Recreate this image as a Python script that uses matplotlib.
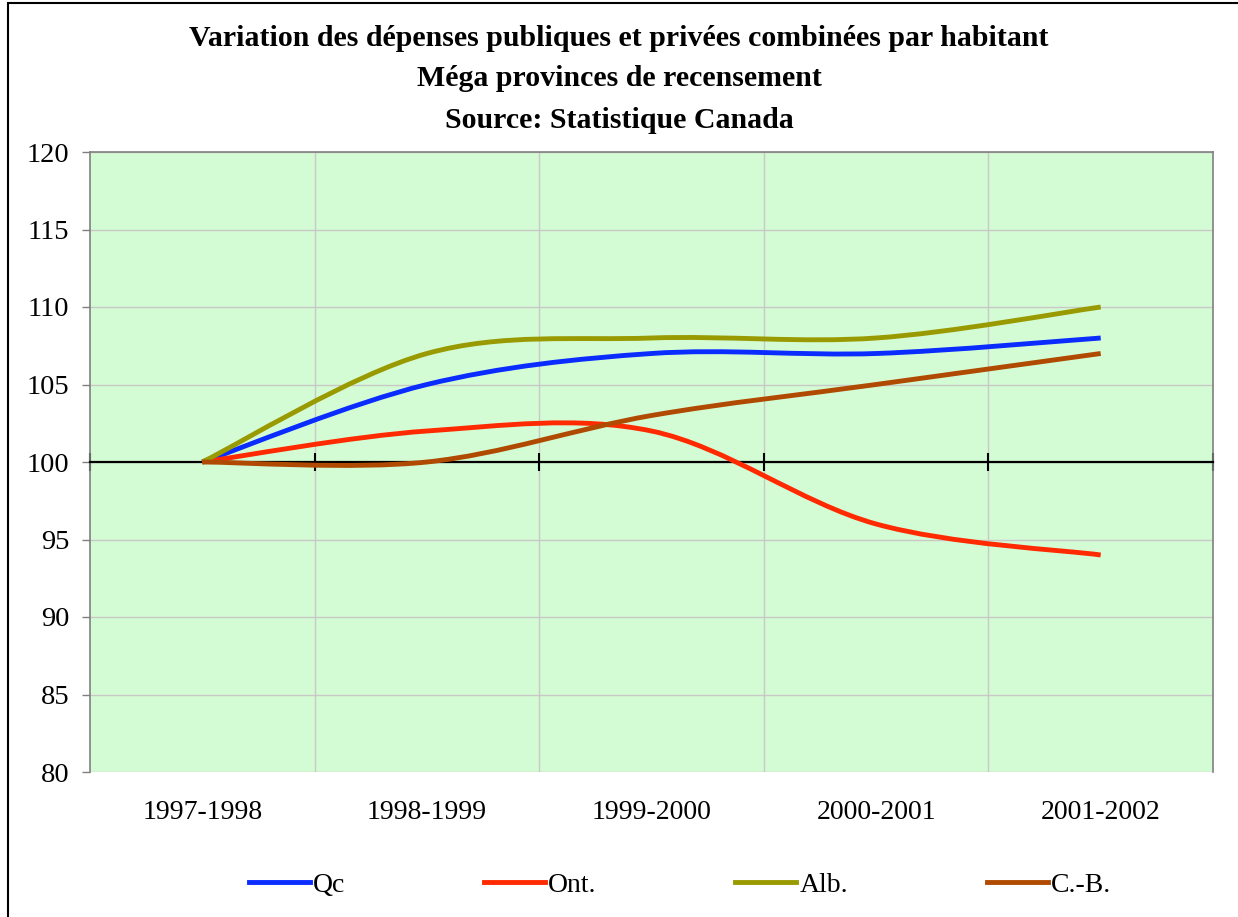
import numpy as np
import matplotlib.pyplot as plt
from matplotlib.path import Path
from matplotlib.patches import PathPatch, Rectangle
from matplotlib.lines import Line2D

# data (index, base 100 = 1997-1998)
years = ['1997-1998', '1998-1999', '1999-2000', '2000-2001', '2001-2002']
qc = [100, 105, 107, 107, 108]
ont = [100, 102, 102, 96, 94]
alb = [100, 107, 108, 108, 110]
cb = [100, 100, 103, 105, 107]

names = ['Qc', 'Ont.', 'Alb.', 'C.-B.']
colors = ['#0a2cff', '#ff2a00', '#999900', '#b04a00']

plt.rcParams['font.family'] = ['Liberation Serif', 'DejaVu Serif']


# smoothed line like excel: cubic bezier through each point
def smooth_path(x, y):
    p = np.column_stack((x, y)).astype(float)
    n = len(p)
    tang = np.zeros_like(p)
    for i in range(n):
        a = p[max(i - 1, 0)]
        b = p[min(i + 1, n - 1)]
        tang[i] = (b - a) / 2.0
    verts = [p[0]]
    codes = [Path.MOVETO]
    for i in range(n - 1):
        verts += [p[i] + tang[i] / 3.0, p[i + 1] - tang[i + 1] / 3.0, p[i + 1]]
        codes += [Path.CURVE4] * 3
    return Path(verts, codes)


fig = plt.figure(figsize=(12.38, 9.17), dpi=100)
ax = fig.add_axes([90 / 1238, 1 - 772 / 917, (1213 - 90) / 1238, 620 / 917])
ax.set_facecolor('#d4fcd4')

x = np.arange(len(years))
for vals, c in zip([qc, ont, alb, cb], colors):
    patch = PathPatch(smooth_path(x, vals), fill=False, edgecolor=c, lw=3.5,
                      capstyle='butt', joinstyle='round', zorder=4)
    ax.add_patch(patch)

ax.set_xlim(-0.5, len(years) - 0.5)
ax.set_ylim(80, 120)
ax.set_yticks(np.arange(80, 121, 5))
ax.tick_params(axis='y', direction='out', length=6, width=1, color='#808080',
               labelsize=20.5, pad=9)

# horizontal + vertical grid
for yv in np.arange(80, 121, 5):
    ax.axhline(yv, color='#c8c8c8', lw=1, zorder=1)
for xv in np.arange(0.5, len(years) - 1, 1):
    ax.axvline(xv, color='#c8c8c8', lw=1, zorder=1)

# x axis crosses at 100
ax.spines['bottom'].set_position(('data', 100))
ax.spines['bottom'].set_linewidth(1.6)
ax.spines['bottom'].set_zorder(3)
ax.set_xticks(np.arange(-0.5, len(years), 1))
ax.set_xticklabels([])
ax.tick_params(axis='x', direction='inout', length=13, width=1.5, color='black')
for s in ['top', 'right', 'left']:
    ax.spines[s].set_color('#808080')
    ax.spines[s].set_linewidth(1.2)

for xi, lab in zip(x, years):
    ax.text(xi, -0.065, lab, transform=ax.get_xaxis_transform(), ha='center',
            va='center', fontsize=20)

# title
fig.text(0.5, 1 - 38 / 917, 'Variation des dépenses publiques et privées combinées par habitant',
         ha='center', va='center', fontsize=21.5, fontweight='bold')
fig.text(0.5, 1 - 79 / 917, 'Méga provinces de recensement',
         ha='center', va='center', fontsize=21.5, fontweight='bold')
fig.text(0.5, 1 - 121 / 917, 'Source: Statistique Canada',
         ha='center', va='center', fontsize=21.5, fontweight='bold')

# legend
handles = [Line2D([], [], color=c, lw=3.5) for c in colors]
fig.legend(handles, names, loc='center', ncol=4, frameon=False, fontsize=20,
           bbox_to_anchor=(680 / 1238, 1 - 885 / 917), handlelength=2.2,
           handletextpad=0.1, columnspacing=5.0)

# outer chart border
fig.patches.append(Rectangle((8 / 1238, -0.1), 1.2, 1 - 3 / 917 + 0.1,
                             transform=fig.transFigure, fill=False,
                             edgecolor='black', lw=1.5))

fig.savefig('out.png', dpi=100)
